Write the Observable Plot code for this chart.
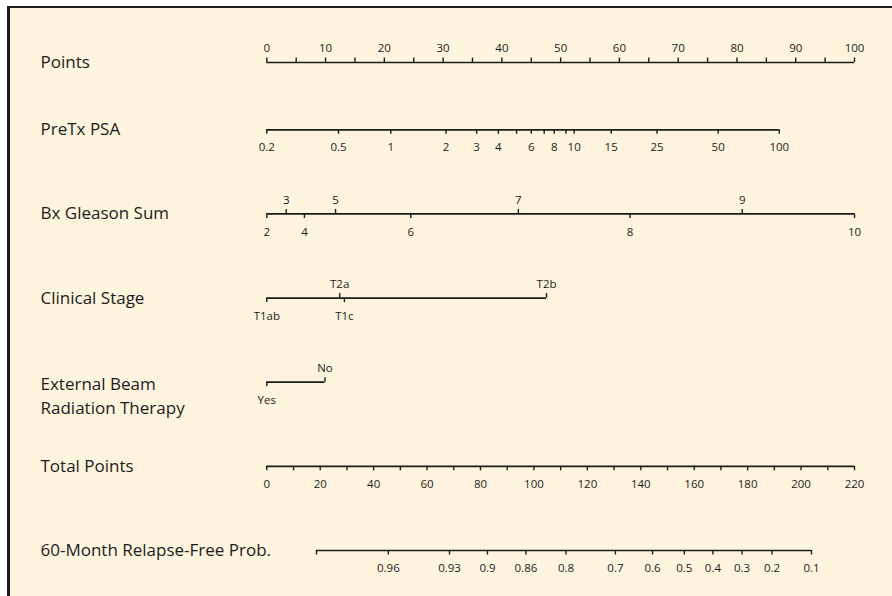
<!DOCTYPE html>
<html><head><meta charset="utf-8">
<script src="https://cdn.jsdelivr.net/npm/d3@7"></script>
<script src="https://cdn.jsdelivr.net/npm/@observablehq/plot@0.6"></script>
<style>
html,body{margin:0;padding:0;background:#fff;overflow:hidden;width:892px;height:596px;}
#frame{position:absolute;left:7px;top:6px;width:900px;height:600px;background:#FFF4DE;border-left:3px solid #1c1c1c;border-top:2px solid #1c1c1c;}
#chart{position:absolute;left:0;top:0;}
</style></head><body><div id="frame"></div><div id="chart"></div>
<script>
// Row names (left labels)
const rowNames = ["Points", "PreTx PSA", "Bx Gleason Sum", "Clinical Stage", "External Beam\nRadiation Therapy", "Total Points", "60-Month Relapse-Free Prob."];

// Points ruler
const pointsTicks = [0,5,10,15,20,25,30,35,40,45,50,55,60,65,70,75,80,85,90,95,100];
const pointsLabels = [0,10,20,30,40,50,60,70,80,90,100];

// PreTx PSA
const psaValues = [0.2,0.5,1,2,3,4,5,6,7,8,9,10,15,25,50,100];
const psaPoints = [0,12.2,21.1,30.5,35.7,39.4,42.5,45.0,47.2,48.9,50.9,52.3,58.6,66.4,76.8,87.2];
const psaLabeled = [0.2,0.5,1,2,3,4,6,8,10,15,25,50,100];

// Bx Gleason Sum
const gleasonValues = [2,3,4,5,6,7,8,9,10];
const gleasonPoints = [0,3.3,6.4,11.7,24.5,42.8,61.8,80.9,100];
const gleasonAbove = [3,5,7,9];

// Clinical Stage
const stageValues = ["T1ab","T2a","T1c","T2b"];
const stagePoints = [0,12.4,13.2,47.6];
const stageAbove = ["T2a","T2b"];

// External Beam Radiation Therapy
const ebrtValues = ["Yes","No"];
const ebrtPoints = [0,9.9];
const ebrtAbove = ["No"];

// Total Points ruler
const totalMax = 220;
const totalTicks = [0,10,20,30,40,50,60,70,80,90,100,110,120,130,140,150,160,170,180,190,200,210,220];
const totalLabels = [0,20,40,60,80,100,120,140,160,180,200,220];

// 60-Month Relapse-Free Probability (positions in total points)
const probValues = [0.96,0.93,0.9,0.86,0.8,0.7,0.6,0.5,0.4,0.3,0.2,0.1];
const probTotalPoints = [45.5,68.4,82.6,97.0,112.0,130.5,144.4,156.3,167.0,177.9,189.1,203.9];
const probLineStart = 18.6;

// ---- layout (row index on a linear y scale) ----
const rowIndex = new Map(rowNames.map((n, i) => [n, i === 0 ? -0.8 : i - 1]));
const R = rowNames;
const toPts = tp => tp * 100 / totalMax;

const lines = [], ticks = [], labels = [];
function addRow(row, pts, labs, above, lineFrom, lineTo) {
  const y = rowIndex.get(row);
  lines.push({y, x1: lineFrom ?? d3.min(pts), x2: lineTo ?? d3.max(pts)});
  pts.forEach((p, i) => {
    const up = above[i];
    ticks.push({y, x: p, up});
    if (labs[i] != null) labels.push({y, x: p, up, text: String(labs[i])});
  });
}
addRow(R[0], pointsTicks, pointsTicks.map(v => pointsLabels.includes(v) ? v : null), pointsTicks.map(() => true));
addRow(R[1], psaPoints, psaValues.map(v => psaLabeled.includes(v) ? v : null), psaValues.map(() => false));
addRow(R[2], gleasonPoints, gleasonValues, gleasonValues.map(v => gleasonAbove.includes(v)));
addRow(R[3], stagePoints, stageValues, stageValues.map(v => stageAbove.includes(v)));
addRow(R[4], ebrtPoints, ebrtValues, ebrtValues.map(v => ebrtAbove.includes(v)));
addRow(R[5], totalTicks.map(toPts), totalTicks.map(v => totalLabels.includes(v) ? v : null), totalTicks.map(() => false));
addRow(R[6], [toPts(probLineStart), ...probTotalPoints.map(toPts)], [null, ...probValues], [false, ...probValues.map(() => false)]);

const rowLabels = rowNames.map(n => ({y: rowIndex.get(n), text: n}));
const ink = "#1c1c1c";
const font = "'Open Sans', sans-serif";

const chart = Plot.plot({
  width: 892,
  height: 596,
  marginLeft: 266.3,
  marginRight: 38,
  marginTop: 62,
  marginBottom: 46,
  style: {background: "transparent", fontFamily: font, color: ink},
  x: {domain: [0, 100], axis: null},
  y: {domain: [-0.8, 5], reverse: true, axis: null},
  marks: [
    Plot.ruleY(lines, {y: "y", x1: "x1", x2: "x2", stroke: ink, strokeWidth: 1.7}),
    Plot.ruleX(ticks.filter(d => d.up), {x: "x", y1: "y", y2: "y", insetTop: -4.5, stroke: ink, strokeWidth: 1.4}),
    Plot.ruleX(ticks.filter(d => !d.up), {x: "x", y1: "y", y2: "y", insetBottom: -4.5, stroke: ink, strokeWidth: 1.4}),
    Plot.text(labels.filter(d => d.up), {x: "x", y: "y", text: "text", dy: -14, fontSize: 11.5, fill: ink}),
    Plot.text(labels.filter(d => !d.up), {x: "x", y: "y", text: "text", dy: 18, fontSize: 11.5, fill: ink}),
    Plot.text(rowLabels.filter(d => !d.text.includes("\n")), {y: "y", text: "text", frameAnchor: "left", dx: -226.3, textAnchor: "start", fontSize: 17, fill: ink}),
    Plot.text(rowLabels.filter(d => d.text.includes("\n")), {y: "y", text: "text", frameAnchor: "left", dx: -226.3, dy: 12, lineHeight: 1.42, textAnchor: "start", fontSize: 17, fill: ink})
  ]
});
document.getElementById("chart").appendChild(chart);
</script>
</body></html>
